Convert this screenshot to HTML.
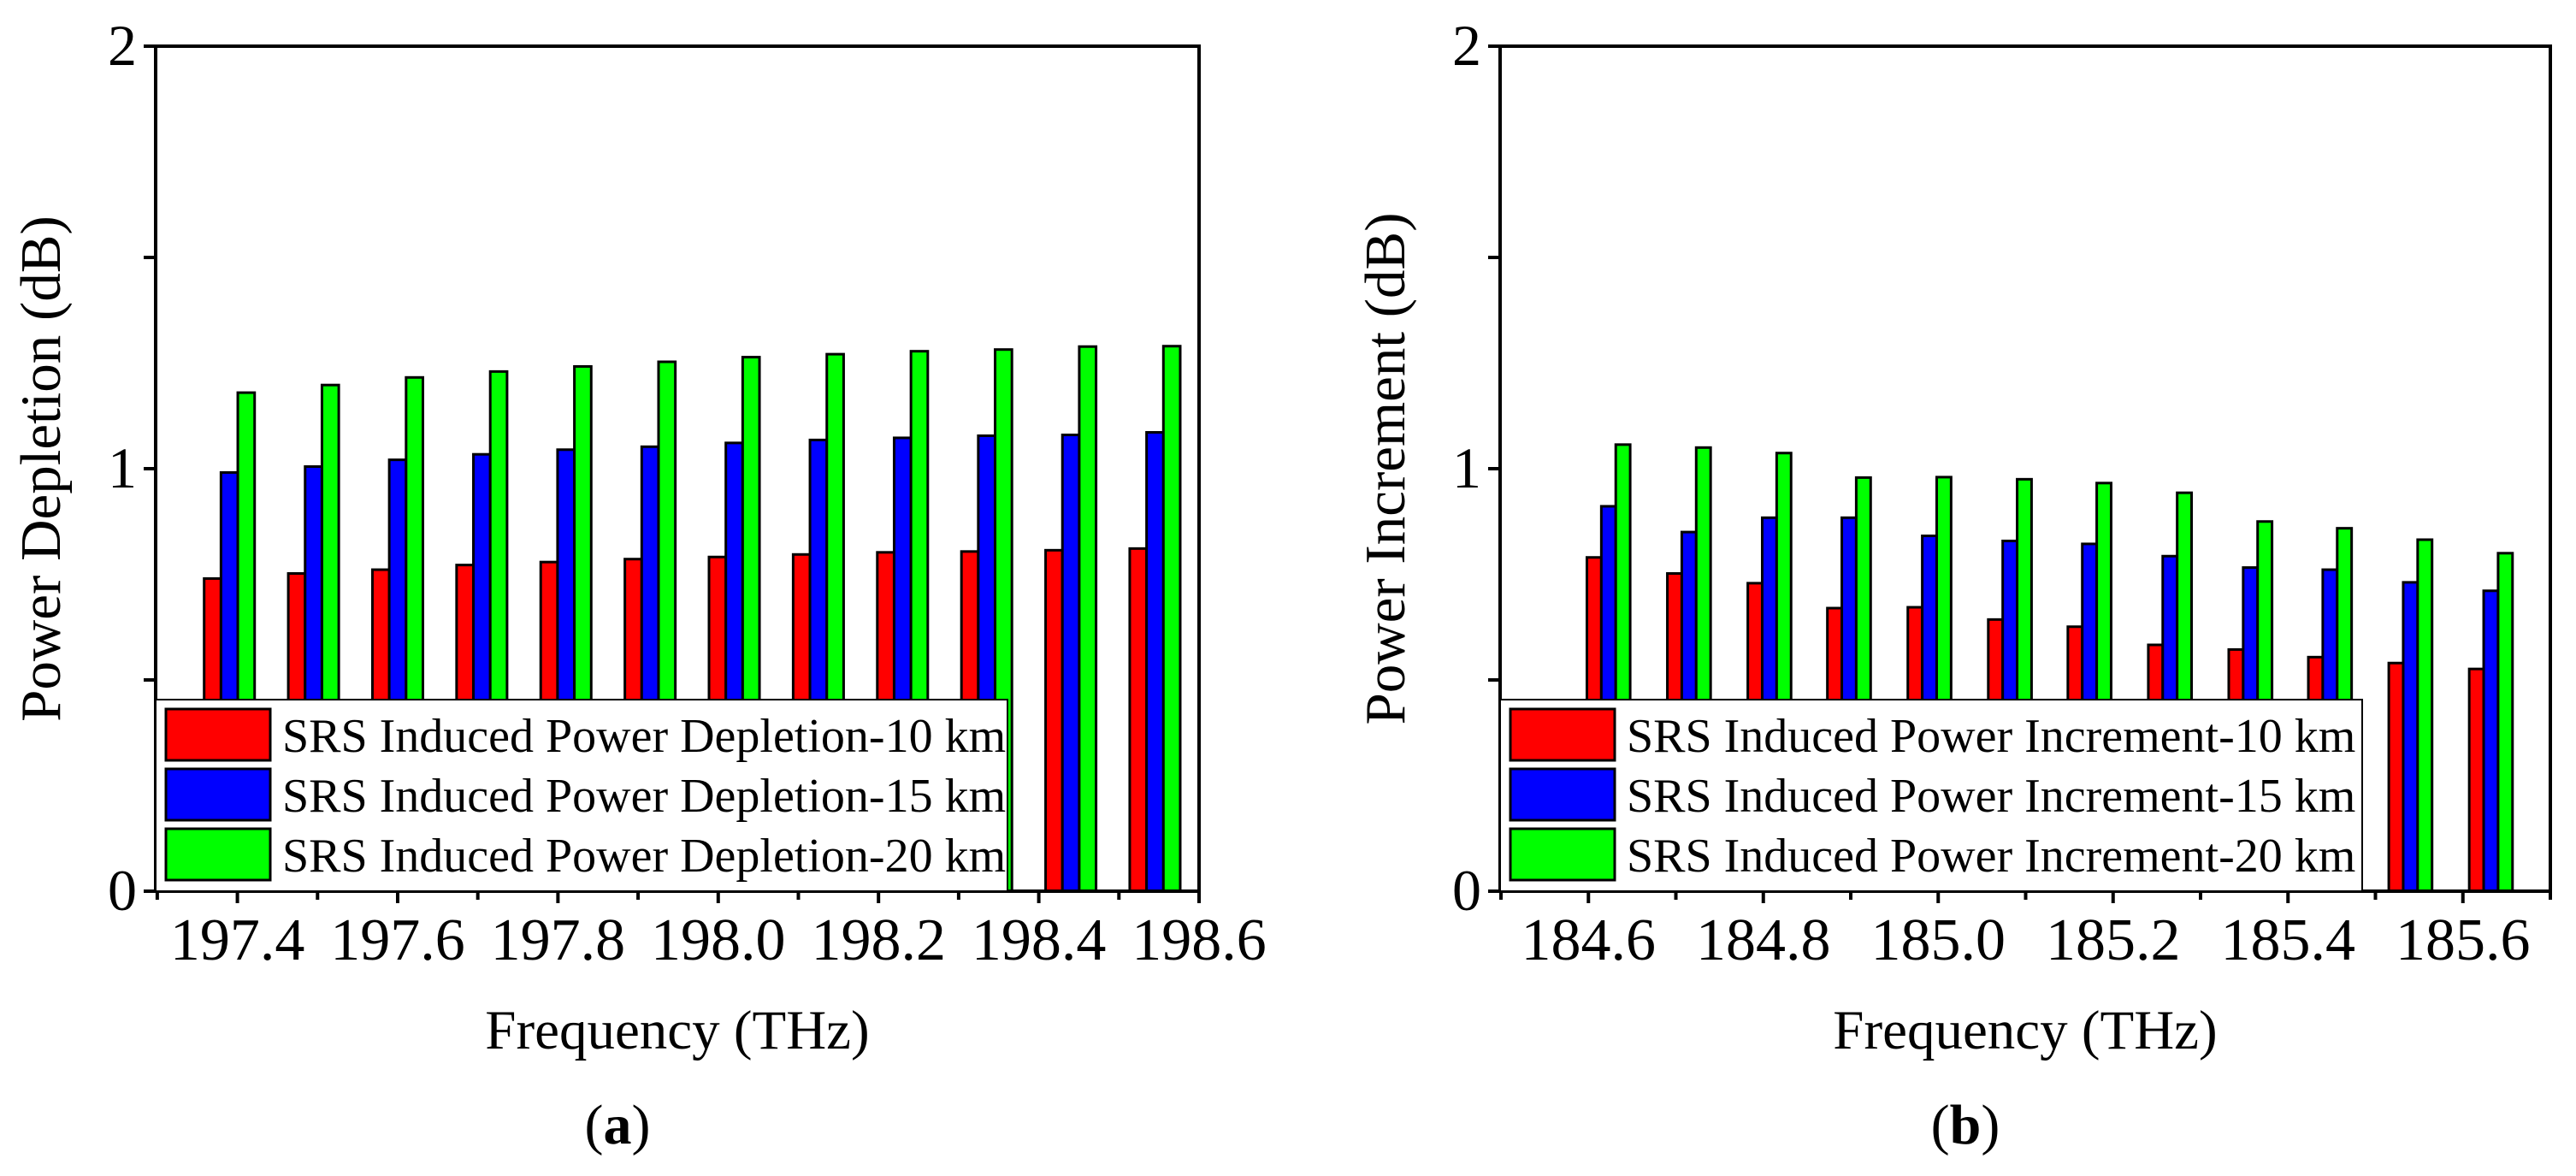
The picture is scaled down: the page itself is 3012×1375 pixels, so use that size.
<!DOCTYPE html>
<html><head><meta charset="utf-8"><style>
html,body{margin:0;padding:0;background:#fff;}
svg{display:block;font-family:"Liberation Serif",serif;}
</style></head><body>
<svg id="svg" width="3012" height="1375" viewBox="0 0 3012 1375" xmlns="http://www.w3.org/2000/svg"></svg>
<script>
const catsA=[197.39,197.495,197.6,197.705,197.81,197.915,198.02,198.125,198.23,198.335,198.44,198.545];
const redA=[0.74,0.752,0.761,0.772,0.779,0.786,0.791,0.797,0.802,0.804,0.807,0.811];
const blueA=[0.991,1.005,1.021,1.034,1.045,1.052,1.061,1.068,1.073,1.078,1.080,1.086];
const greenA=[1.18,1.198,1.216,1.23,1.242,1.253,1.264,1.271,1.278,1.282,1.289,1.29];
const ticksA=["197.4","197.6","197.8","198.0","198.2","198.4","198.6"];
const catsB=[184.623,184.715,184.807,184.898,184.99,185.082,185.173,185.265,185.357,185.448,185.54,185.632];
const redB=[0.79,0.752,0.729,0.67,0.672,0.643,0.626,0.583,0.572,0.554,0.54,0.526];
const blueB=[0.911,0.85,0.884,0.884,0.841,0.829,0.822,0.793,0.766,0.761,0.731,0.711];
const greenB=[1.057,1.05,1.037,0.979,0.98,0.975,0.966,0.943,0.875,0.859,0.832,0.8];
const ticksB=["184.6","184.8","185.0","185.2","185.4","185.6"];
const yTicks=["0","1","2"];

const NS="http://www.w3.org/2000/svg";
const svg=document.getElementById('svg');
function mk(tag,attrs,parent,text){const e=document.createElementNS(NS,tag);for(const k in attrs)e.setAttribute(k,attrs[k]);if(text!==undefined)e.textContent=text;(parent||svg).appendChild(e);return e;}

function panel(o){
  const g=mk('g',{});
  
  
  const X=v=>o.x0+(v-o.xmin)/(o.xmax-o.xmin)*(o.x1-o.x0);
  const Y=v=>o.y1-(v/2)*(o.y1-o.y0);
  const series=[[o.red,'#ff0000','10'],[o.blue,'#0000ff','15'],[o.green,'#00ff00','20']];
  const bw=X(o.xmin+o.bw)-X(o.xmin);
  series.forEach((s,si)=>{
    o.cats.forEach((c,i)=>{
      const r=mk('rect',{x:X(c)+(si-1.5)*bw,y:Y(s[0][i]),width:bw,height:Y(0)-Y(s[0][i]),fill:s[1],stroke:'#000','stroke-width':3},g);
      
      
    });
  });
  for(let v=0;v<=2.001;v+=0.5){mk('line',{x1:o.x0-14,x2:o.x0,y1:Y(v),y2:Y(v),stroke:'#000','stroke-width':4},g);}
  yTicks.forEach(t=>{const e=mk('text',{x:o.x0-22,y:Y(+t)+22,'text-anchor':'end','font-size':68},g,t);
    });
  for(let v=o.minor0;v<=o.xmax+1e-6;v+=0.1){const maj=Math.abs(Math.round(v*10)%2)===0;
    mk('line',{x1:X(v),x2:X(v),y1:o.y1,y2:o.y1+(maj?14:10),stroke:'#000','stroke-width':4},g);}
  o.ticks.forEach(t=>{const e=mk('text',{x:X(+t),y:o.y1+80,'text-anchor':'middle','font-size':70},g,t);
    });
  const fr=mk('rect',{x:o.x0,y:o.y0,width:o.x1-o.x0,height:o.y1-o.y0,fill:'none',stroke:'#000','stroke-width':4},g);
  
  const lg=mk('g',{},g);
  
  mk('rect',{x:o.x0,y:o.legY,width:o.legW,height:o.y1-o.legY,fill:'#fff',stroke:'#000','stroke-width':2},lg);
  series.forEach((s,si)=>{
    const cy=o.legY+41+si*70;
    mk('rect',{x:o.x0+12,y:cy-30,width:122,height:60,fill:s[1],stroke:'#000','stroke-width':3},lg);
    const t=mk('text',{x:o.x0+148,y:cy+20,'font-size':56},lg,'SRS Induced Power '+o.word+'-'+s[2]+' km');
    
  });
  const xt=mk('text',{x:(o.x0+o.x1)/2,y:1226,'text-anchor':'middle','font-size':65},g,'Frequency (THz)');
  
  const yt=mk('text',{x:0,y:0,'text-anchor':'middle','font-size':67,transform:`translate(${o.x0-112},${(o.y0+o.y1)/2}) rotate(-90)`},g,'Power '+o.word+' (dB)');
  
  const lb=mk('text',{x:(o.x0+o.x1)/2-70,y:1337,'text-anchor':'middle','font-size':66},g);
  
  mk('tspan',{},lb,'(');mk('tspan',{'font-weight':'bold'},lb,o.label);mk('tspan',{},lb,')');
}
panel({name:'chart-a',x0:182,x1:1402,y0:54,y1:1042,xmin:197.298,xmax:198.6,minor0:197.3,bw:0.021,
  cats:catsA,red:redA,blue:blueA,green:greenA,ticks:ticksA,word:'Depletion',legY:818,legW:996,label:'a'});
panel({name:'chart-b',x0:1754,x1:2982,y0:54,y1:1042,xmin:184.499,xmax:185.7,minor0:184.5,bw:0.0165,
  cats:catsB,red:redB,blue:blueB,green:greenB,ticks:ticksB,word:'Increment',legY:818,legW:1008,label:'b'});
</script>
</body></html>
